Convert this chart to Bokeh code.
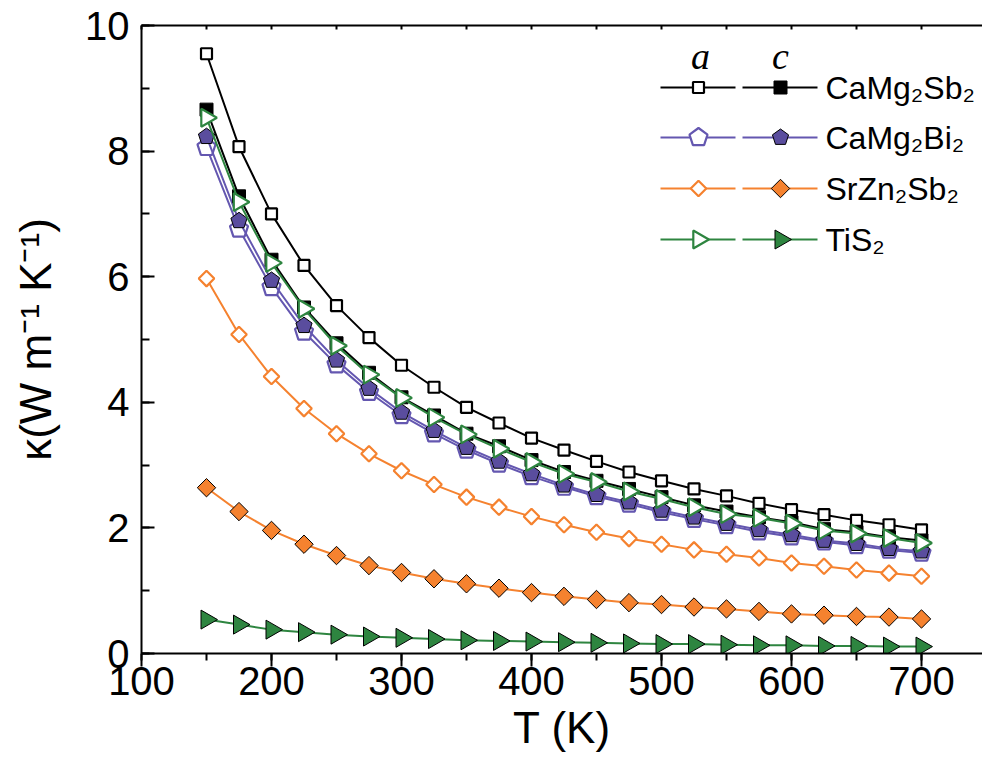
import numpy as np
from bokeh.plotting import figure
from bokeh.models import Range1d, LinearAxis, Label, SingleIntervalTicker
from bokeh.embed import file_html
from bokeh.resources import INLINE

# ---------------- data ----------------
T = [150, 175, 200, 225, 250, 275, 300, 325, 350, 375, 400, 425,
     450, 475, 500, 525, 550, 575, 600, 625, 650, 675, 700]

camgsb_a = [9.55, 8.07, 7.00, 6.18, 5.54, 5.03, 4.59, 4.24, 3.92, 3.67, 3.43, 3.24,
            3.06, 2.89, 2.75, 2.62, 2.51, 2.39, 2.29, 2.21, 2.12, 2.05, 1.97]
camgsb_c = [8.66, 7.28, 6.27, 5.51, 4.94, 4.47, 4.08, 3.79, 3.50, 3.30, 3.08, 2.89,
            2.75, 2.62, 2.49, 2.36, 2.26, 2.17, 2.09, 1.98, 1.93, 1.85, 1.80]
camgbi_a = [8.06, 6.76, 5.83, 5.12, 4.60, 4.16, 3.79, 3.50, 3.24, 3.02, 2.82, 2.65,
            2.50, 2.38, 2.25, 2.14, 2.04, 1.94, 1.86, 1.78, 1.72, 1.65, 1.60]
camgbi_c = [8.23, 6.89, 5.94, 5.22, 4.67, 4.22, 3.84, 3.55, 3.28, 3.06, 2.86, 2.68,
            2.53, 2.41, 2.28, 2.17, 2.07, 1.97, 1.89, 1.80, 1.75, 1.67, 1.63]
srznsb_a = [5.97, 5.08, 4.41, 3.90, 3.50, 3.18, 2.91, 2.69, 2.49, 2.33, 2.18, 2.05,
            1.93, 1.83, 1.74, 1.65, 1.58, 1.52, 1.44, 1.39, 1.33, 1.28, 1.23]
srznsb_c = [2.64, 2.26, 1.96, 1.74, 1.56, 1.40, 1.29, 1.19, 1.11, 1.04, 0.97, 0.91,
            0.86, 0.81, 0.78, 0.74, 0.71, 0.67, 0.63, 0.61, 0.59, 0.58, 0.55]
tis_a = [8.53, 7.19, 6.22, 5.49, 4.90, 4.44, 4.07, 3.76, 3.49, 3.26, 3.05, 2.86,
         2.73, 2.58, 2.46, 2.33, 2.22, 2.16, 2.07, 1.96, 1.91, 1.84, 1.76]
tis_c = [0.54, 0.46, 0.38, 0.34, 0.30, 0.27, 0.25, 0.23, 0.21, 0.20, 0.19, 0.18,
         0.17, 0.16, 0.15, 0.15, 0.14, 0.13, 0.13, 0.12, 0.12, 0.11, 0.11]

names = ["CaMg₂Sb₂", "CaMg₂Bi₂", "SrZn₂Sb₂", "TiS₂"]
x_label = "T (K)"
y_label = "κ(W m⁻¹ K⁻¹)"
x_ticks_interval = 100
y_ticks_interval = 2

# ---------------- style ----------------
BLACK = "#000000"
PURPLE = "#6457b0"
PURPLE_FILL = "#5a4d9e"
ORANGE = "#f5822f"
GREEN = "#2e8540"
FONT = "Liberation Sans"

W, H = 982, 765
L, R, TOP, B = 141, 0, 25, 112
X0, X1 = 100, 100 + (W - L - R) / 1.3
Y0, Y1 = 0, 10

p = figure(width=W, height=H, output_backend="svg", toolbar_location=None,
           x_range=Range1d(X0, X1), y_range=Range1d(Y0, Y1),
           min_border_left=L, min_border_right=R, min_border_top=TOP,
           min_border_bottom=B)
p.grid.visible = False
p.outline_line_color = None
p.background_fill_color = "white"
p.border_fill_color = "white"

# frame geometry helpers (canvas px -> data) for legend placement
SX = (W - L - R) / (X1 - X0)
SY = (H - TOP - B) / (Y1 - Y0)


def xd(px):
    return X0 + (px - L) / SX


def yd(py):
    return Y1 - (py - TOP) / SY


xa = p.xaxis[0]
xa.ticker = SingleIntervalTicker(interval=x_ticks_interval, num_minor_ticks=2)
ya = p.yaxis[0]
ya.ticker = SingleIntervalTicker(interval=y_ticks_interval, num_minor_ticks=2)
for ax in (xa, ya):
    ax.axis_line_width = 2
    ax.major_tick_line_width = 2
    ax.minor_tick_line_width = 2
    ax.major_label_text_font = FONT
    ax.major_label_text_font_size = "40px"
    ax.major_label_text_color = "black"
    ax.axis_label_text_font = FONT
    ax.axis_label_text_font_style = "normal"
    ax.axis_label_text_color = "black"
xa.axis_label = x_label
xa.axis_label_text_font_size = "44px"
xa.axis_label_standoff = 5
xa.major_tick_in = 0
xa.major_tick_out = 13
xa.minor_tick_in = 0
xa.minor_tick_out = 7
xa.major_label_standoff = 0
ya.axis_label = y_label
ya.axis_label_text_font_size = "44px"
ya.axis_label_standoff = 22
ya.major_tick_in = 13
ya.major_tick_out = 0
ya.minor_tick_in = 8
ya.minor_tick_out = 0
ya.major_label_standoff = 12

top = LinearAxis(ticker=SingleIntervalTicker(interval=50, num_minor_ticks=0),
                 major_label_text_color=None, major_label_text_font_size="10px",
                 major_tick_in=4, major_tick_out=0, minor_tick_in=0,
                 minor_tick_out=0, axis_line_width=2, major_tick_line_width=2,
                 major_label_standoff=0)
p.add_layout(top, "above")


def pentagon(x, y, r, fill, line, lw):
    try:
        return p.ngon(x=x, y=y, radius=r, radius_units="screen", n=5,
                      angle=0, fill_color=fill, line_color=line,
                      line_width=lw)
    except Exception:
        return p.scatter(x=x, y=y, marker="hex", size=2 * r, fill_color=fill,
                         line_color=line, line_width=lw)


def open_marker(kind, x, y, color):
    if kind == "square":
        p.scatter(x, y, marker="square", size=11, fill_color="white",
                  line_color=color, line_width=2.2)
    elif kind == "pent":
        pentagon(x, y, 9.5, "white", color, 2.2)
    elif kind == "diamond":
        p.scatter(x, y, marker="square", size=11, angle=np.pi / 4,
                  fill_color="white", line_color=color, line_width=2.2)
    elif kind == "tri":
        p.scatter(x, y, marker="triangle", size=18, angle=-np.pi / 2,
                  fill_color="white", line_color=color, line_width=2.2)


def filled_marker(kind, x, y, color):
    if kind == "square":
        p.scatter(x, y, marker="square", size=13, fill_color=color,
                  line_color="black", line_width=1)
    elif kind == "pent":
        pentagon(x, y, 8.5, color, "black", 1)
    elif kind == "diamond":
        p.scatter(x, y, marker="square", size=13, angle=np.pi / 4,
                  fill_color=color, line_color="black", line_width=1)
    elif kind == "tri":
        p.scatter(x, y, marker="triangle", size=19, angle=-np.pi / 2,
                  fill_color=color, line_color="black", line_width=1)


series = [
    ("pent", PURPLE, PURPLE_FILL, camgbi_a, camgbi_c),
    ("square", BLACK, BLACK, camgsb_a, camgsb_c),
    ("tri", GREEN, GREEN, tis_a, tis_c),
    ("diamond", ORANGE, ORANGE, srznsb_a, srznsb_c),
]
for kind, lc, fc, va, vc in series:
    p.line(T, va, line_color=lc, line_width=2)
    open_marker(kind, T, va, lc)
    p.line(T, vc, line_color=lc, line_width=2)
    filled_marker(kind, T, vc, fc)

# ---------------- legend (manual, two glyph columns) ----------------
leg_rows_px = [87, 137, 188, 239]
leg_kinds = [("square", BLACK, BLACK), ("pent", PURPLE, PURPLE_FILL),
             ("diamond", ORANGE, ORANGE), ("tri", GREEN, GREEN)]
ca0, ca1, cam = 660, 735, 698
cc0, cc1, ccm = 742, 817, 780
for row, (kind, lc, fc), name in zip(leg_rows_px, leg_kinds, names):
    yy = yd(row)
    p.line([xd(ca0), xd(ca1)], [yy, yy], line_color=lc, line_width=2)
    open_marker(kind, [xd(cam)], [yy], lc)
    p.line([xd(cc0), xd(cc1)], [yy, yy], line_color=lc, line_width=2)
    filled_marker(kind, [xd(ccm)], [yy], fc)
    p.add_layout(Label(x=xd(825), y=yy, text=name, text_baseline="middle",
                       text_align="left", text_font=FONT,
                       text_font_size="32px", text_color="black"))

for txt, px in (("a", 700), ("c", 780)):
    p.add_layout(Label(x=xd(px), y=yd(55), text=txt, text_baseline="middle",
                       text_align="center", text_font="Liberation Serif",
                       text_font_style="italic", text_font_size="38px",
                       text_color="black"))

open("out.html", "w").write(file_html(p, INLINE))
